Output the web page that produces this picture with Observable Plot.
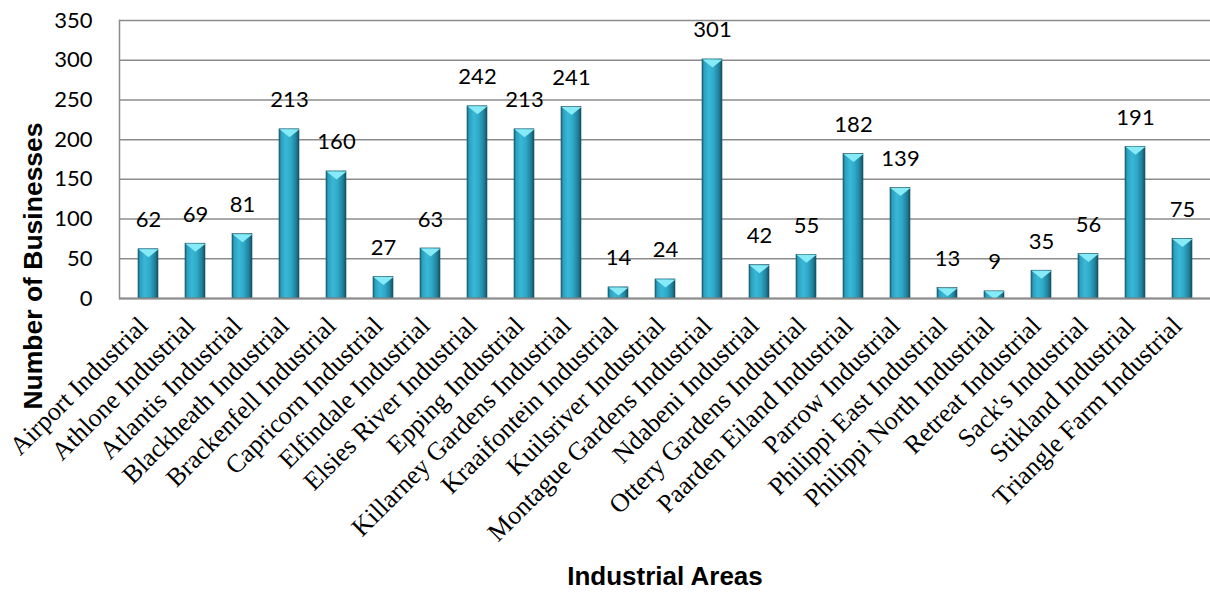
<!DOCTYPE html>
<html>
<head>
<meta charset="utf-8">
<script src="https://cdn.jsdelivr.net/npm/d3@7"></script>
<script src="https://cdn.jsdelivr.net/npm/@observablehq/plot@0.6"></script>
<style>
  html, body { margin: 0; padding: 0; background: #fff; }
  #chart { width: 1210px; height: 592px; }
</style>
</head>
<body>
<div id="chart"></div>
<script>
const areas = [
  "Airport Industrial", "Athlone Industrial", "Atlantis Industrial", "Blackheath Industrial",
  "Brackenfell Industrial", "Capricorn Industrial", "Elfindale Industrial", "Elsies River Industrial",
  "Epping Industrial", "Killarney Gardens Industrial", "Kraaifontein Industrial", "Kuilsriver Industrial",
  "Montague Gardens Industrial", "Ndabeni Industrial", "Ottery Gardens Industrial", "Paarden Eiland Industrial",
  "Parrow Industrial", "Philippi East Industrial", "Philippi North Industrial", "Retreat Industrial",
  "Sack's Industrial", "Stikland Industrial", "Triangle Farm Industrial"
];
const businesses = [62, 69, 81, 213, 160, 27, 63, 242, 213, 241, 14, 24, 301, 42, 55, 182, 139, 13, 9, 35, 56, 191, 75];
const yTicks = [0, 50, 100, 150, 200, 250, 300, 350];
const xTitle = "Industrial Areas";
const yTitle = "Number of Businesses";

const data = areas.map((a, i) => ({area: a, value: businesses[i]}));

const bevel = {
  draw(context) {
    context.moveTo(-10, 0);
    context.lineTo(10, 0);
    context.lineTo(0, 8);
    context.closePath();
  }
};

const numFont = "Lato, 'Open Sans', sans-serif";
const titleFont = "'Liberation Sans', Arial, sans-serif";

const chart = Plot.plot({
  width: 1210,
  height: 592,
  marginLeft: 119,
  marginRight: 0,
  marginTop: 20,
  marginBottom: 294,
  style: {fontFamily: numFont, fontSize: "22px", color: "#000", background: "#fff"},
  x: {domain: areas, paddingInner: 0.58, paddingOuter: 0.29, label: null},
  y: {domain: [0, 350], label: null},
  marks: [
    Plot.gridY(yTicks, {stroke: "#8c8c8c", strokeOpacity: 1, strokeWidth: 1.5}),
    Plot.frame({anchor: "left", stroke: "#8c8c8c", strokeWidth: 1.5}),
    Plot.barY(data, {x: "area", y: "value", fill: "url(#barGrad)", stroke: "#1a5566", strokeWidth: 0.6}),
    Plot.dot(data, {x: "area", y: "value", symbol: bevel, fill: "#86eaf7", stroke: "none", r: 5}),
    Plot.ruleY([0], {stroke: "#8c8c8c", strokeWidth: 2}),
    Plot.text(data, {x: "area", y: "value", text: d => String(d.value), dy: -29, fontSize: 22, fontFamily: numFont, fill: "#000"}),
    Plot.axisY({ticks: yTicks, tickSize: 0, tickPadding: 27, fontSize: 22, fontFamily: numFont, label: null}),
    Plot.axisX({tickRotate: -45, tickSize: 0, tickPadding: 23, fontSize: 26, fontFamily: "'Liberation Serif', 'Times New Roman', serif", label: null, dx: -5})
  ]
});

const svg = d3.select(chart);
const defs = svg.insert("defs", ":first-child");
const g = defs.append("linearGradient").attr("id", "barGrad").attr("x1", "0%").attr("x2", "100%").attr("y1", "0%").attr("y2", "0%");
[["0%", "#1b6478"], ["12%", "#2ba2c2"], ["35%", "#3ab8d7"], ["60%", "#2ea8c7"], ["85%", "#1f809b"], ["100%", "#154f60"]]
  .forEach(([o, c]) => g.append("stop").attr("offset", o).attr("stop-color", c));

// axis titles
svg.append("text")
  .attr("transform", "translate(33,266) rotate(-90)")
  .attr("text-anchor", "middle")
  .attr("dy", "0.35em")
  .attr("font-family", titleFont)
  .attr("font-size", 26.5)
  .attr("font-weight", "bold")
  .attr("fill", "#000")
  .text(yTitle);
svg.append("text")
  .attr("x", 665)
  .attr("y", 576)
  .attr("text-anchor", "middle")
  .attr("dy", "0.35em")
  .attr("font-family", titleFont)
  .attr("font-size", 26)
  .attr("font-weight", "bold")
  .attr("fill", "#000")
  .text(xTitle);

document.getElementById("chart").appendChild(chart);
</script>
</body>
</html>
